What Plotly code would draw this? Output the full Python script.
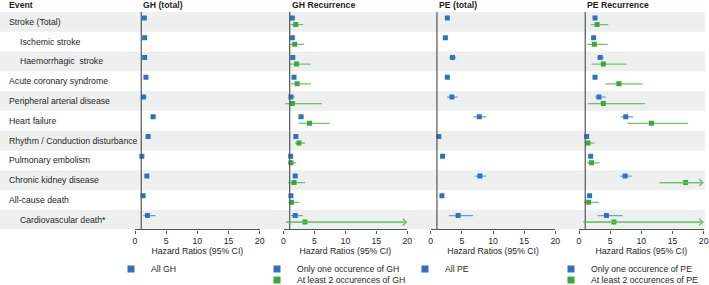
import plotly.graph_objects as go

W, H = 709, 285
XMAX = 20

events = ["Stroke (Total)", "Ischemic stroke", "Haemorrhagic  stroke",
          "Acute coronary syndrome", "Peripheral arterial disease", "Heart failure",
          "Rhythm / Conduction disturbance", "Pulmonary embolism",
          "Chronic kidney disease", "All-cause death", "Cardiovascular death*"]
indented = [False, True, True, False, False, False, False, False, False, False, True]

panel_titles = ["GH (total)", "GH Recurrence", "PE (total)", "PE Recurrence"]
tick_values = [0, 5, 10, 15, 20]
axis_title = "Hazard Ratios (95% CI)"

# GH (total)
gh_all_est = [1.5, 1.55, 1.55, 1.75, 1.35, 2.9, 2.1, 1.1, 1.9, 1.3, 2.0]
gh_all_lo = [1.4, 1.4, 1.3, 1.6, 1.05, 2.5, 1.95, 1.0, 1.75, 1.2, 1.3]
gh_all_hi = [1.65, 1.7, 1.9, 1.95, 1.9, 3.4, 2.25, 1.25, 2.05, 1.4, 3.3]

# GH recurrence: only one occurrence
gh_one_est = [1.43, 1.43, 1.5, 1.7, 1.2, 2.83, 2.0, 1.16, 1.9, 1.2, 1.9]
gh_one_lo = [1.3, 1.3, 1.3, 1.5, 0.9, 2.45, 1.85, 1.0, 1.7, 1.05, 1.2]
gh_one_hi = [1.6, 1.6, 1.8, 1.95, 1.8, 3.25, 2.2, 1.3, 2.1, 1.35, 3.1]

# GH recurrence: at least 2 occurrences (None = beyond axis)
gh_two_est = [1.97, 1.8, 2.1, 2.2, 1.43, 4.2, 2.5, 1.2, 1.7, 1.3, 3.47]
gh_two_lo = [1.2, 1.0, 1.0, 1.2, 0.25, 2.45, 1.85, 0.73, 0.73, 0.78, 0.35]
gh_two_hi = [3.2, 3.3, 4.4, 4.45, 6.2, 7.45, 3.5, 2.07, 3.5, 2.5, None]

# PE (total)
pe_all_est = [2.67, 2.35, 3.5, 2.67, 3.4, 7.8, 1.3, 1.9, 7.9, 1.8, 4.4]
pe_all_lo = [2.5, 2.1, 3.0, 2.4, 2.6, 6.8, 1.2, 1.75, 7.1, 1.65, 2.9]
pe_all_hi = [2.9, 2.8, 4.1, 3.1, 4.3, 8.9, 1.4, 2.05, 8.9, 1.95, 6.8]

# PE recurrence: only one occurrence
pe_one_est = [2.57, 2.35, 3.4, 2.57, 3.2, 7.5, 1.23, 1.87, 7.4, 1.7, 4.4]
pe_one_lo = [2.35, 2.0, 2.9, 2.2, 2.6, 6.7, 1.1, 1.7, 6.6, 1.55, 3.0]
pe_one_hi = [2.8, 2.7, 4.0, 2.95, 4.3, 8.7, 1.35, 2.05, 8.45, 1.85, 7.0]

# PE recurrence: at least 2 occurrences (None = beyond axis)
pe_two_est = [2.9, 2.46, 3.9, 6.4, 3.9, 11.6, 1.44, 2.0, 17.1, 1.55, 5.6]
pe_two_lo = [1.9, 1.3, 2.0, 4.2, 1.4, 7.75, 0.96, 1.3, 12.9, 0.8, 0.64]
pe_two_hi = [4.7, 4.6, 7.6, 10.2, 10.6, 17.5, 2.5, 3.3, None, 3.2, None]

BLUE, BLUE_CI = "#2f73be", "#6e9fd8"
GREEN, GREEN_CI = "#3aa83a", "#6cc46a"
TXT = "#1e1e1e"
AXC = "#555555"
BAND = "#eef0f0"
FONT = "Liberation Sans, Arial, sans-serif"
FS = 8.7

n = len(events)
fig = go.Figure()

# panel geometry in pixels
panel_px = [(135.0, 259.7), (283.5, 407.3), (430.7, 555.3), (579.0, 703.7)]
y_top_px, y_bot_px = 12.1, 229.4
ydom = [1 - y_bot_px / H, 1 - y_top_px / H]
BLUE_OFF, GREEN_OFF = -0.2, 0.13


def sfx(k):
    return "" if k == 1 else str(k)


def add_series(k, est, lo, hi, off, color, cicolor):
    ys = [i + off for i in range(n)]
    plus = [(XMAX if h is None else min(h, XMAX)) - e for e, h in zip(est, hi)]
    minus = [e - l for e, l in zip(est, lo)]
    fig.add_trace(go.Scatter(
        x=est, y=ys, mode="markers", xaxis=f"x{sfx(k)}", yaxis=f"y{sfx(k)}",
        marker=dict(symbol="square", size=5, color=color),
        error_x=dict(type="data", array=plus, arrayminus=minus, color=cicolor,
                     thickness=1.3, width=0),
        showlegend=False, hoverinfo="x"))
    for i, h in enumerate(hi):
        if h is None:
            fig.add_annotation(x=XMAX, y=ys[i], ax=lo[i], ay=ys[i],
                               xref=f"x{sfx(k)}", yref=f"y{sfx(k)}",
                               axref=f"x{sfx(k)}", ayref=f"y{sfx(k)}",
                               showarrow=True, arrowhead=4, arrowsize=1.1,
                               arrowwidth=1.2, arrowcolor=cicolor, text="")


add_series(1, gh_all_est, gh_all_lo, gh_all_hi, BLUE_OFF, BLUE, BLUE_CI)
add_series(2, gh_one_est, gh_one_lo, gh_one_hi, BLUE_OFF, BLUE, BLUE_CI)
add_series(2, gh_two_est, gh_two_lo, gh_two_hi, GREEN_OFF, GREEN, GREEN_CI)
add_series(3, pe_all_est, pe_all_lo, pe_all_hi, BLUE_OFF, BLUE, BLUE_CI)
add_series(4, pe_one_est, pe_one_lo, pe_one_hi, BLUE_OFF, BLUE, BLUE_CI)
add_series(4, pe_two_est, pe_two_lo, pe_two_hi, GREEN_OFF, GREEN, GREEN_CI)

# legends: one legend per entry so spacing can match the reference
legend_entries = [
    ("All GH", BLUE, 0, 269),
    ("Only one occurence of GH", BLUE, 1, 269),
    ("At least 2 occurences of GH", GREEN, 1, 280),
    ("All PE", BLUE, 2, 269),
    ("Only one occurence of PE", BLUE, 3, 269),
    ("At least 2 occurences of PE", GREEN, 3, 280),
]
text_start_px = [152, 298, 446, 592]
layout_legends = {}
for j, (name, color, panel, ypx) in enumerate(legend_entries):
    lid = "legend" if j == 0 else f"legend{j + 1}"
    fig.add_trace(go.Scatter(x=[None], y=[None], mode="markers", name=name,
                             marker=dict(symbol="square", size=7, color=color),
                             xaxis="x", yaxis="y", legend=lid, showlegend=True))
    layout_legends[lid] = dict(
        x=(text_start_px[panel] - 41) / W, y=1 - ypx / H,
        xanchor="left", yanchor="middle", bgcolor="rgba(0,0,0,0)",
        borderwidth=0, itemwidth=30, font=dict(family=FONT, size=FS, color=TXT),
        itemclick=False, itemdoubleclick=False)

layout = dict(
    width=W, height=H, autosize=False,
    margin=dict(l=0, r=0, t=0, b=0, pad=0, autoexpand=False),
    paper_bgcolor="white", plot_bgcolor="rgba(0,0,0,0)",
    font=dict(family=FONT, size=FS, color=TXT),
    **layout_legends,
)
for k in range(1, 5):
    x0, x1 = panel_px[k - 1]
    layout[f"xaxis{sfx(k)}"] = dict(
        domain=[x0 / W, x1 / W], range=[0, XMAX], anchor=f"y{sfx(k)}",
        tickvals=tick_values, ticks="outside", ticklen=3, tickcolor=AXC,
        showline=True, linecolor=AXC, linewidth=1.2, showgrid=False, zeroline=False,
        tickfont=dict(family=FONT, size=FS, color=TXT),
        title=dict(text=axis_title, standoff=0, font=dict(family=FONT, size=FS, color=TXT)),
        fixedrange=True)
    layout[f"yaxis{sfx(k)}"] = dict(
        domain=ydom, range=[n - 0.5, -0.5], anchor=f"x{sfx(k)}", visible=False,
        showgrid=False, zeroline=False, fixedrange=True)
fig.update_layout(**layout)

# alternating row bands
for i in range(0, n, 2):
    fig.add_shape(type="rect", xref="paper", yref="y", x0=0, x1=705 / W,
                  y0=i - 0.5, y1=i + 0.5, fillcolor=BAND, line_width=0, layer="below")

# reference lines at HR = 1
for k in range(1, 5):
    fig.add_shape(type="line", xref=f"x{sfx(k)}", yref=f"y{sfx(k)} domain",
                  x0=1, x1=1, y0=0, y1=1, line=dict(color=AXC, width=1.2))

# row labels
for i, (ev, ind) in enumerate(zip(events, indented)):
    fig.add_annotation(x=(18 if ind else 7) / W, y=i, xref="paper", yref="y",
                       text=ev, showarrow=False, xanchor="left", yanchor="middle",
                       font=dict(family=FONT, size=FS, color=TXT))

# headers
fig.add_annotation(x=7 / W, y=1 - 5 / H, xref="paper", yref="paper", text="<b>Event</b>",
                   showarrow=False, xanchor="left", yanchor="middle",
                   font=dict(family=FONT, size=FS, color=TXT))
for k, t in enumerate(panel_titles, start=1):
    fig.add_annotation(x=1, y=1 - 5 / H, xref=f"x{sfx(k)}", yref="paper", text=f"<b>{t}</b>",
                       showarrow=False, xanchor="left", yanchor="middle",
                       font=dict(family=FONT, size=FS, color=TXT))

fig.write_html("out.html", post_script="document.body.style.margin='0';",
               config={"displayModeBar": False})
